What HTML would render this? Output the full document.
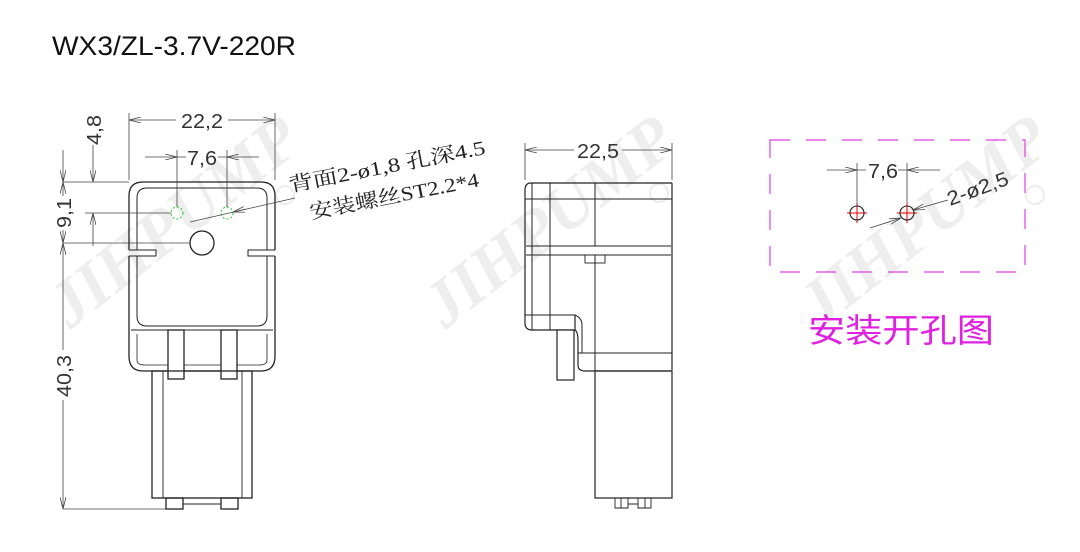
<!DOCTYPE html>
<html><head><meta charset="utf-8"><style>
html,body{margin:0;padding:0;background:#fff;}
svg{display:block;}
</style></head><body>
<svg width="1080" height="552" viewBox="0 0 1080 552" xmlns="http://www.w3.org/2000/svg" font-family="Liberation Sans, Noto Sans CJK SC, sans-serif">
<defs>
<marker id="a" viewBox="0 0 12 6" refX="12" refY="3" markerWidth="12" markerHeight="6" orient="auto-start-reverse" markerUnits="userSpaceOnUse">
<path d="M0,0 L12,3 L0,6" fill="none" stroke="#444" stroke-width="0.8"/></marker>
</defs>
<!-- watermarks -->
<g fill="#eeeeee" font-family="Liberation Serif, serif" font-style="italic" font-weight="bold" font-size="66">
<text transform="translate(70,330) rotate(-38)">JIHPUMP</text>
<text transform="translate(445,330) rotate(-38)">JIHPUMP</text>
<text transform="translate(820,330) rotate(-38)">JIHPUMP</text>
</g>
<g fill="none" stroke="#ececec" stroke-width="2"><circle cx="285" cy="195" r="9"/><circle cx="659" cy="193" r="9"/><circle cx="1035" cy="195" r="9"/></g>

<text x="52" y="55" font-size="27" fill="#111" textLength="244" lengthAdjust="spacingAndGlyphs">WX3/ZL-3.7V-220R</text>

<!-- FRONT VIEW -->
<g fill="none" stroke="#222" stroke-width="1.3">
<path d="M129,250 V196 Q129,182 143,182 H261 Q275,182 275,196 V250"/>
<path d="M129,256 V356 Q129,371 143,371 H261 Q275,371 275,356 V256"/>
<path d="M137,250 V198 Q137,188 147,188 H257 Q267,188 267,198 V250" stroke-width="1"/>
<path d="M137,256 V316 Q137,326 147,326 H257 Q267,326 267,316 V256" stroke-width="1"/>
<path d="M129,250 H156 V256 H129 M275,250 H248 V256 H275" stroke-width="1"/>
<path d="M131,330 H273" stroke-width="1"/>
<path d="M137,334 V360 Q137,365 145,365 H259 Q267,365 267,360 V334" stroke-width="0.8"/>
<rect x="168" y="330" width="16" height="49" fill="#fff"/>
<rect x="221" y="330" width="16" height="49" fill="#fff"/>
<rect x="152" y="371" width="100" height="127"/>
<path d="M163,371 V498 M242,371 V498" stroke-width="0.9"/>
<rect x="166" y="498" width="17" height="11"/>
<rect x="221" y="498" width="17" height="11"/>
<path d="M183,504 H221" stroke-width="0.9"/>
<circle cx="202" cy="243" r="12"/>
</g>
<g fill="none" stroke="#2c2" stroke-width="1" stroke-dasharray="2,2"><circle cx="177" cy="213" r="6"/><circle cx="227" cy="213" r="6"/></g>
<!-- front dims -->
<g stroke="#444" stroke-width="0.8" fill="none">
<path d="M129,113 V180 M275,113 V180"/>
<path d="M129,120 H176 M228,120 H275" marker-start="url(#a)" marker-end="url(#a)"/>
<path d="M177,150 V207 M227,150 V207"/>
<path d="M145,157 H177" marker-end="url(#a)"/><path d="M259,157 H227" marker-end="url(#a)"/>
<path d="M177,157 H186 M218,157 H227"/>
<path d="M63,182 H129 M85,213 H171 M63,243 H190 M63,509 H166"/>
<path d="M93,150 V182" marker-end="url(#a)"/><path d="M93,246 V213" marker-end="url(#a)"/>
<path d="M93,150 V145"/>
<path d="M63,150 V182" marker-end="url(#a)"/><path d="M63,182 V196 M63,230 V243" marker-start="url(#a)" marker-end="url(#a)"/>
<path d="M63,243 V350 M63,400 V509" marker-start="url(#a)" marker-end="url(#a)"/>
<path d="M190,222 L295,198"/>
<path d="M233,212 L246,209" marker-start="url(#a)"/>
</g>
<g fill="#333" font-size="20">
<text x="202" y="128" text-anchor="middle" textLength="42" lengthAdjust="spacingAndGlyphs">22,2</text>
<text x="202" y="165" text-anchor="middle" textLength="30" lengthAdjust="spacingAndGlyphs">7,6</text>
<text transform="translate(101,145) rotate(-90)" textLength="30" lengthAdjust="spacingAndGlyphs">4,8</text>
<text transform="translate(71,228) rotate(-90)" textLength="30" lengthAdjust="spacingAndGlyphs">9,1</text>
<text transform="translate(71,397) rotate(-90)" textLength="42" lengthAdjust="spacingAndGlyphs">40,3</text>
</g>
<g fill="#222" font-size="20" font-family="Liberation Serif, Noto Serif CJK SC, serif">
<text transform="translate(290,192) rotate(-11)" textLength="200" lengthAdjust="spacingAndGlyphs">背面2-ø1,8 孔深4.5</text>
<text transform="translate(311,219) rotate(-11)" textLength="172" lengthAdjust="spacingAndGlyphs">安装螺丝ST2.2*4</text>
</g>

<!-- SIDE VIEW -->
<g fill="none" stroke="#222" stroke-width="1.2">
<path d="M672,183 H531 Q525,183 525,190 V323 Q525,330 532,330 H557"/>
<path d="M672,183 V370"/>
<path d="M525,199 H672 M526,246 H671 M526,255 H671" stroke-width="1"/>
<path d="M532,183 V330 M550,183 V330 M595,183 V246 M595,255 V498" stroke-width="1"/>
<path d="M525,315 H575 Q582,318 582,325 V353" stroke-width="1"/>
<path d="M557,330 H575 M575,315 V330 Q578,332 578,340 V365 Q578,371 585,371 H672" />
<path d="M578,353 H672" stroke-width="1"/>
<rect x="557" y="330" width="17" height="50" fill="#fff"/>
<rect x="585" y="255" width="20" height="8" stroke-width="0.9"/>
<rect x="595" y="371" width="77" height="127"/>
<path d="M615,498 V508 H628 V498 M621,498 V508 M638,498 V508 H651 V498 M645,498 V508 M628,504 H638" stroke-width="0.9"/>
</g>
<g stroke="#444" stroke-width="0.8" fill="none">
<path d="M525,143 V180 M672,143 V180"/>
<path d="M525,150 H574 M622,150 H672" marker-start="url(#a)" marker-end="url(#a)"/>
</g>
<text x="598" y="158" text-anchor="middle" font-size="20" fill="#333" textLength="42" lengthAdjust="spacingAndGlyphs">22,5</text>

<!-- HOLE LAYOUT -->
<rect x="770" y="140" width="255" height="132" fill="none" stroke="#e040e0" stroke-width="1.2" stroke-dasharray="20,16"/>
<g stroke="#444" stroke-width="0.8" fill="none">
<path d="M857,163 V213 M907,163 V213"/>
<path d="M827,170 H857" marker-end="url(#a)"/><path d="M940,170 H907" marker-end="url(#a)"/>
<path d="M857,170 H866 M898,170 H907"/>
<path d="M948,200 L913,210" marker-end="url(#a)"/>
<path d="M870,228 L901,218" marker-end="url(#a)"/>
</g>
<g stroke="#e00" stroke-width="1"><path d="M847,213 H867 M857,203 V223 M897,213 H917 M907,203 V223"/></g>
<g fill="none" stroke="#222" stroke-width="1.1"><circle cx="857" cy="213" r="7"/><circle cx="907" cy="213" r="7"/></g>
<text x="883" y="178" text-anchor="middle" font-size="20" fill="#333" textLength="30" lengthAdjust="spacingAndGlyphs">7,6</text>
<text transform="translate(950,206) rotate(-20)" font-size="20" fill="#333" textLength="64" lengthAdjust="spacingAndGlyphs">2-ø2,5</text>
<text x="808" y="342" font-size="33" fill="#e020e0" font-family="Noto Sans CJK SC, sans-serif" textLength="186" lengthAdjust="spacingAndGlyphs">安装开孔图</text>
</svg>
</body></html>
